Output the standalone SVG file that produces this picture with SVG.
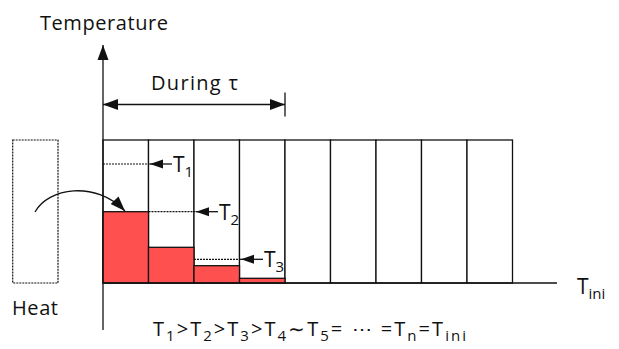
<svg xmlns="http://www.w3.org/2000/svg" width="619" height="349" viewBox="0 0 619 349">
<style>
.t{font-family:"Open Sans","Noto Sans",sans-serif;font-size:20px;fill:#111}
.L{font-size:21px}
.s{font-size:15px}
.f{font-size:20px}
.fs{font-size:15px}
.ln{stroke:#111;stroke-width:1.3;fill:none}
.cell{fill:#fff;stroke:#111;stroke-width:1.3}
.bar{fill:#ff5050;stroke:#111;stroke-width:1.3}
.dot{stroke:#111;stroke-width:1.2;stroke-dasharray:2 1;fill:none}
</style>
<defs>
<marker id="big" markerUnits="userSpaceOnUse" markerWidth="16" markerHeight="12" refX="15" refY="5.5" orient="auto-start-reverse" viewBox="0 0 16 11">
<path d="M0,0 L15,5.5 L0,11 Z" fill="#111"/>
</marker>
<marker id="sm" markerUnits="userSpaceOnUse" markerWidth="14" markerHeight="10" refX="13" refY="4.5" orient="auto" viewBox="0 0 14 9">
<path d="M0,0 L13,4.5 L0,9 Z" fill="#111"/>
</marker>
</defs>
<g id="heat-source">
<rect x="12.7" y="140" width="45.3" height="143" class="dot"/>
</g>
<g id="cells">
<rect x="103" y="140" width="45.5" height="143" class="cell"/>
<rect x="148.5" y="140" width="45.5" height="143" class="cell"/>
<rect x="194" y="140" width="45.5" height="143" class="cell"/>
<rect x="239.5" y="140" width="45.5" height="143" class="cell"/>
<rect x="285" y="140" width="45.5" height="143" class="cell"/>
<rect x="330.5" y="140" width="45.5" height="143" class="cell"/>
<rect x="376" y="140" width="45.5" height="143" class="cell"/>
<rect x="421.5" y="140" width="45.5" height="143" class="cell"/>
<rect x="467" y="140" width="45.5" height="143" class="cell"/>
</g>
<g id="bars">
<rect x="103" y="211.7" width="45.5" height="71.3" class="bar"/>
<rect x="148.5" y="247.3" width="45.5" height="35.7" class="bar"/>
<rect x="194" y="265.7" width="45.5" height="17.3" class="bar"/>
<rect x="239.5" y="278.3" width="45.5" height="4.7" class="bar"/>
</g>
<g id="connectors">
<line x1="103" y1="283" x2="557" y2="283" class="ln"/>
<line x1="103" y1="330" x2="103" y2="45" class="ln" marker-end="url(#big)"/>
<line x1="103" y1="104.5" x2="285" y2="104.5" class="ln" marker-start="url(#big)" marker-end="url(#big)"/>
<line x1="285" y1="92.5" x2="285" y2="116.5" class="ln"/>
<line x1="103" y1="164" x2="150" y2="164" class="dot"/>
<line x1="172" y1="164" x2="150" y2="164" class="ln" marker-end="url(#sm)"/>
<line x1="148.5" y1="211.7" x2="196" y2="211.7" class="dot"/>
<line x1="218" y1="211.7" x2="196" y2="211.7" class="ln" marker-end="url(#sm)"/>
<line x1="194" y1="259.3" x2="241" y2="259.3" class="dot"/>
<line x1="263" y1="259.3" x2="241" y2="259.3" class="ln" marker-end="url(#sm)"/>
<path d="M35,212 C48,188 95,180 125,211" class="ln" marker-end="url(#big)"/>
</g>
<g id="labels">
<text class="t" x="40" y="30" textLength="128">Temperature</text>
<text class="t" x="151" y="90" textLength="87">During τ</text>
<text class="t" x="12" y="315" textLength="46">Heat</text>
<text class="t L" x="173" y="172">T<tspan class="s" dy="5">1</tspan></text>
<text class="t L" x="219" y="220">T<tspan class="s" dy="5">2</tspan></text>
<text class="t L" x="264" y="267">T<tspan class="s" dy="5">3</tspan></text>
<text class="t L" x="577" y="294">T<tspan class="s" dy="5">ini</tspan></text>
<text class="t f" x="153" y="336" textLength="313" lengthAdjust="spacing">T<tspan class="fs" dy="5">1</tspan><tspan dy="-5">&gt;T</tspan><tspan class="fs" dy="5">2</tspan><tspan dy="-5">&gt;T</tspan><tspan class="fs" dy="5">3</tspan><tspan dy="-5">&gt;T</tspan><tspan class="fs" dy="5">4</tspan><tspan dy="-5">∼T</tspan><tspan class="fs" dy="5">5</tspan><tspan dy="-5">=  ⋯  =T</tspan><tspan class="fs" dy="5">n</tspan><tspan dy="-5">=T</tspan><tspan class="fs" dy="5">ini</tspan></text>
</g>
</svg>
